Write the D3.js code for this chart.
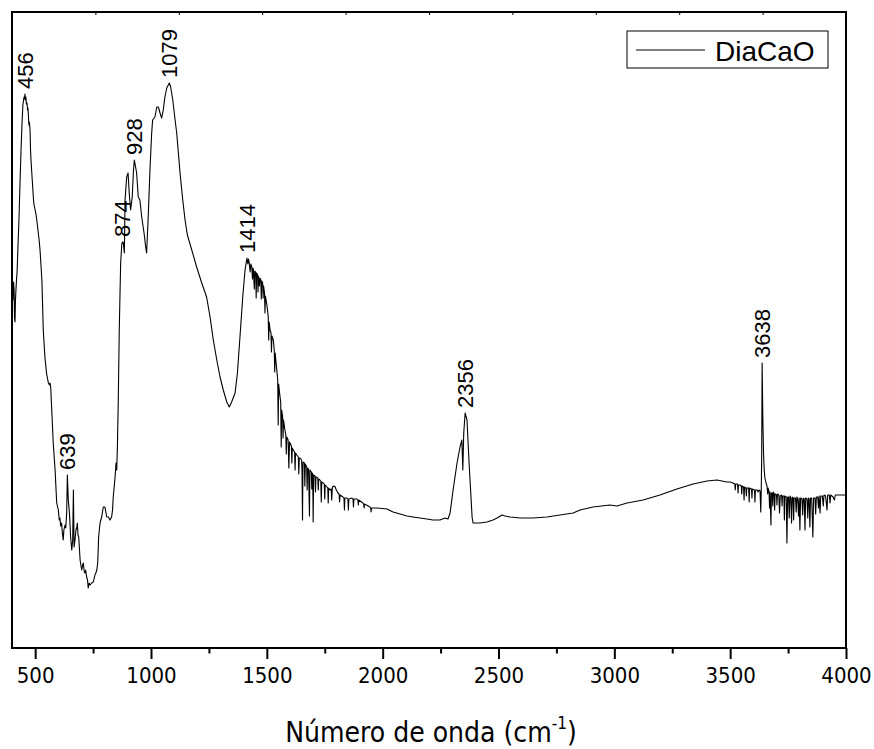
<!DOCTYPE html>
<html>
<head>
<meta charset="utf-8">
<script src="https://cdn.jsdelivr.net/npm/d3@7"></script>
<style>
  html, body { margin: 0; padding: 0; background: #fff; }
  svg { display: block; }
</style>
</head>
<body>
<svg id="chart" width="874" height="749"></svg>
<script>
// FTIR spectrum of DiaCaO — wavenumber (cm-1) vs. transmittance (%)

// 400–1000 cm-1
const waveA = [400,404,407,409,411,413,415,417,420,422,426,430,435,439,443,447,450,452,454,456,458,460,462,465,467,469,473,475,478,480,482,486,491,493,495,500,504,508,512,517,521,529,535,542,549,557,562,564,567,571,578,586,593,600,604,607,610,614,617,621,624,629,632,636,639,643,648,653,658,662,665,668,672,676,680,682,685,688,694,698,701,705,708,712,715,718,722,726,729,733,737,744,751,755,758,762,766,770,774,780,787,794,801,805,809,816,823,830,834,837,845,849,852,855,859,863,869,874,877,880,885,888,895,901,906,912,919,924,928,932,938,945,952,960,970,977,981,988,996];
const transA = [36.3,34.8,36.6,35.8,33.0,32.6,34.8,35.8,37.0,37.6,40.3,42.8,46.8,49.8,52.3,54.3,54.8,55.1,54.9,55.4,54.8,55.1,54.4,54.5,53.8,54.0,52.3,52.6,51.8,49.8,48.8,47.3,45.5,44.8,44.3,43.8,43.3,42.6,41.8,40.8,39.8,36.8,31.8,29.1,27.5,26.5,26.3,26.5,26.1,24.1,20.5,17.8,14.5,13.8,12.8,13.0,12.2,12.5,11.6,10.8,11.8,12.3,12.0,13.5,17.3,14.8,13.5,11.1,9.8,10.8,15.8,10.1,10.8,11.8,12.1,12.5,11.3,11.1,8.8,8.2,7.8,8.3,8.5,7.6,7.5,7.8,7.1,6.8,6.0,6.5,6.3,6.5,6.6,7.0,7.3,7.5,7.8,8.5,11.1,12.5,13.1,14.1,14.1,13.6,13.1,13.1,12.8,13.1,13.8,15.1,17.1,18.5,17.8,20.1,25.1,31.8,38.5,40.4,40.6,40.6,39.5,44.8,47.1,47.5,45.5,43.8,45.1,47.6,48.8,48.3,47.5,45.1,44.8,43.1,41.5,40.1,39.5,43.1,48.1];

// 1000–2000 cm-1
const waveB = [1003,1007,1017,1025,1032,1039,1046,1053,1060,1068,1079,1085,1094,1104,1111,1125,1137,1147,1157,1176,1197,1219,1240,1255,1269,1284,1298,1312,1327,1338,1348,1363,1373,1384,1396,1406,1414,1418,1421,1424,1428,1431,1435,1438,1440,1442,1446,1448,1452,1454,1456,1460,1462,1464,1468,1470,1474,1476,1478,1482,1484,1486,1490,1492,1494,1499,1503,1506,1508,1510,1514,1518,1520,1522,1528,1532,1534,1536,1543,1547,1549,1551,1557,1560,1562,1564,1568,1570,1572,1578,1582,1584,1586,1592,1595,1598,1600,1606,1608,1610,1614,1620,1622,1624,1629,1636,1638,1640,1643,1650,1652,1654,1656,1662,1664,1666,1672,1674,1676,1680,1684,1686,1692,1694,1696,1698,1700,1702,1708,1710,1712,1716,1720,1722,1724,1729,1733,1735,1737,1744,1748,1750,1752,1760,1763,1765,1767,1773,1778,1780,1783,1790,1795,1800,1807,1812,1814,1816,1829,1833,1835,1837,1846,1850,1852,1854,1868,1872,1874,1876,1889,1893,1895,1897,1915,1918,1920,1922,1945,1948,1950,1952,1976];
const transB = [51.5,52.8,53.1,54.1,54.1,53.5,53.0,53.8,55.1,56.0,56.5,56.1,54.8,52.8,51.5,47.6,44.8,42.8,41.3,39.8,38.1,36.5,35.1,33.1,30.8,28.8,27.1,25.8,24.6,24.1,24.6,25.5,27.5,31.1,35.1,37.8,39.0,38.4,38.9,38.5,37.6,38.4,38.1,36.9,38.0,37.8,35.9,37.7,37.6,35.0,37.5,37.3,35.6,37.2,36.2,37.0,36.8,34.9,36.7,36.5,35.0,36.2,35.5,33.5,35.2,34.5,33.8,33.1,30.8,32.6,31.8,31.5,29.6,31.2,30.8,29.8,27.6,29.5,27.8,26.8,22.3,26.4,25.1,24.6,20.1,23.8,23.2,21.0,22.8,21.8,21.3,19.4,21.1,20.8,18.0,20.6,20.5,20.2,18.5,20.0,19.8,19.6,17.8,19.5,19.3,19.1,17.4,19.0,19.0,18.8,17.6,12.8,18.6,18.5,16.2,18.4,18.1,15.8,18.0,17.9,13.2,17.8,17.6,15.9,17.5,17.4,12.6,17.3,17.2,15.6,17.1,17.1,17.0,15.8,16.9,16.8,16.7,14.6,16.6,16.5,16.4,14.9,16.3,16.1,16.0,14.5,16.0,15.8,15.9,14.8,16.1,16.2,16.1,15.8,15.5,15.4,14.6,15.3,15.1,15.0,13.8,15.0,15.0,14.9,13.8,14.9,15.0,14.9,14.1,14.9,14.9,14.8,14.3,14.8,14.5,14.4,14.0,14.4,14.1,14.0,13.6,14.0,14.0];

// 2000–4000 cm-1
const waveC = [2019,2045,2075,2105,2131,2161,2191,2217,2247,2269,2282,2291,2304,2321,2334,2342,2346,2350,2356,2364,2373,2386,2390,2420,2450,2476,2494,2515,2528,2550,2593,2649,2709,2765,2822,2852,2908,2981,3011,3055,3124,3197,3270,3340,3400,3443,3486,3500,3512,3520,3522,3524,3532,3534,3536,3542,3548,3550,3552,3558,3560,3562,3568,3570,3572,3580,3582,3584,3592,3594,3596,3605,3607,3609,3616,3620,3624,3629,3632,3634,3636,3638,3641,3644,3647,3650,3655,3659,3662,3664,3668,3670,3672,3676,3678,3682,3684,3686,3690,3692,3694,3700,3702,3704,3710,3713,3716,3722,3724,3726,3732,3734,3736,3742,3745,3748,3752,3755,3758,3762,3765,3768,3772,3774,3776,3782,3785,3788,3792,3795,3798,3801,3804,3810,3813,3816,3820,3823,3826,3832,3835,3838,3841,3844,3847,3852,3857,3860,3866,3869,3872,3878,3881,3884,3888,3891,3898,3902,3905,3912,3918,3921,3928,3931,3934,3944,3950,3954,3960,3974,3985,4000];
const transC = [13.9,13.6,13.4,13.2,13.1,13.0,12.9,12.8,12.8,13.0,12.9,13.5,15.8,18.5,20.1,20.8,17.8,21.5,23.5,22.8,18.5,13.1,12.5,12.5,12.6,12.8,13.0,13.3,13.2,13.1,13.0,13.0,13.1,13.3,13.5,13.8,14.1,14.3,14.2,14.5,14.8,15.3,15.9,16.4,16.7,16.8,16.6,16.6,16.5,16.4,15.8,16.4,16.4,15.5,16.3,16.3,16.2,15.4,16.2,16.1,14.8,16.1,16.0,15.2,16.0,16.0,14.6,16.0,15.9,15.0,15.9,15.8,14.6,15.8,15.8,15.6,15.8,15.7,13.6,15.5,19.0,28.5,23.0,19.5,17.8,17.0,16.5,16.2,15.4,16.0,15.6,14.0,15.6,12.3,15.5,15.5,14.2,15.6,15.4,13.8,15.4,15.3,14.3,15.4,15.3,13.5,15.2,15.3,14.2,15.2,15.2,12.8,15.2,15.1,10.5,15.1,15.1,13.0,15.2,15.0,12.5,15.1,15.0,12.8,15.0,15.0,13.6,15.1,14.9,13.2,15.0,11.8,15.0,14.9,13.3,15.0,14.9,11.8,15.0,14.9,13.0,15.0,14.9,12.1,15.0,15.0,11.1,15.0,15.0,13.4,15.1,15.1,14.0,15.2,13.5,15.2,15.2,14.2,15.3,15.2,13.8,15.3,15.3,14.5,15.3,15.1,14.8,15.3,15.3,15.3,15.3,15.3];

// Labelled band positions (cm-1)
const peakBands = [456, 639, 874, 928, 1079, 1414, 2356, 3638];

// Axis ticks
const majorTicks = [500, 1000, 1500, 2000, 2500, 3000, 3500, 4000];
const minorTicks = [750, 1250, 1750, 2250, 2750, 3250, 3750];

const seriesName = "DiaCaO";

const wavenumbers = [...waveA, ...waveB, ...waveC];
const transmittance = [...transA, ...transB, ...transC];
const spectrum = wavenumbers.map((w, i) => ({ w, t: transmittance[i] }));

const svg = d3.select("#chart");
const plot = { left: 12, right: 846, top: 12, bottom: 648 };

const x = d3.scaleLinear().domain([400, 4000]).range([plot.left, plot.right]);
const y = d3.scaleLinear().domain([0, 63.6]).range([plot.bottom, plot.top]);

const tickFont = "'DejaVu Sans Condensed', 'DejaVu Sans', Tahoma, sans-serif";
const labelFont = "'Liberation Sans', Arial, Helvetica, sans-serif";

// spectrum trace
svg.append("path")
  .datum(spectrum)
  .attr("fill", "none")
  .attr("stroke", "#000")
  .attr("stroke-width", 1.1)
  .attr("stroke-linejoin", "round")
  .attr("d", d3.line().x(d => x(d.w)).y(d => y(d.t)));

// minor ticks on the bottom axis
svg.append("g")
  .attr("transform", `translate(0,${plot.bottom})`)
  .call(d3.axisBottom(x).tickValues(minorTicks).tickSize(5.5).tickFormat(""))
  .call(g => g.select(".domain").remove())
  .call(g => g.selectAll("line").attr("stroke-width", 2));

// major ticks with labels
svg.append("g")
  .attr("transform", `translate(0,${plot.bottom})`)
  .call(d3.axisBottom(x).tickValues(majorTicks).tickSize(11).tickPadding(8).tickFormat(d3.format("d")))
  .call(g => g.select(".domain").remove())
  .call(g => g.selectAll("line").attr("stroke-width", 2))
  .call(g => g.selectAll("text")
    .attr("font-family", tickFont)
    .attr("font-size", 22)
    .attr("fill", "#000"));

// small inner ticks on the top edge
svg.append("g")
  .attr("transform", `translate(0,${plot.top})`)
  .call(d3.axisTop(x).tickValues(d3.range(760, 4000, 360)).tickSize(-3).tickFormat(""))
  .call(g => g.select(".domain").remove())
  .call(g => g.selectAll("line").attr("stroke-width", 1));

// frame
svg.append("rect")
  .attr("x", plot.left)
  .attr("y", plot.top)
  .attr("width", plot.right - plot.left)
  .attr("height", plot.bottom - plot.top)
  .attr("fill", "none")
  .attr("stroke", "#000")
  .attr("stroke-width", 2);

// band labels, rotated, sitting just above each band maximum
const bandPoint = band => {
  const near = spectrum.filter(d => Math.abs(d.w - band) <= 3);
  return near.reduce((a, b) => (b.t > a.t ? b : a));
};
svg.append("g")
  .selectAll("text")
  .data(peakBands)
  .join("text")
  .attr("transform", d => {
    const p = bandPoint(d);
    return `translate(${x(d) + 8},${y(p.t) - 5}) rotate(-90)`;
  })
  .attr("font-family", labelFont)
  .attr("font-size", 22)
  .attr("fill", "#000")
  .text(d => d);

// axis title
const title = svg.append("text")
  .attr("x", (plot.left + plot.right) / 2 + 2)
  .attr("y", 742)
  .attr("text-anchor", "middle")
  .attr("font-family", tickFont)
  .attr("font-size", 28)
  .attr("fill", "#000");
title.append("tspan").text("Número de onda (cm");
title.append("tspan").attr("font-size", 17).attr("dy", -13).text("-1");
title.append("tspan").attr("dy", 13).text(")");

// legend
const legend = svg.append("g").attr("transform", `translate(${plot.right - 219},${plot.top + 19})`);
legend.append("rect")
  .attr("width", 201).attr("height", 37)
  .attr("fill", "#fff").attr("stroke", "#000").attr("stroke-width", 1);
legend.append("line")
  .attr("x1", 9).attr("x2", 78).attr("y1", 19).attr("y2", 19)
  .attr("stroke", "#000").attr("stroke-width", 1.1);
legend.append("text")
  .attr("x", 88).attr("y", 30)
  .attr("font-family", labelFont)
  .attr("font-size", 28)
  .attr("fill", "#000")
  .text(seriesName);
</script>
</body>
</html>
